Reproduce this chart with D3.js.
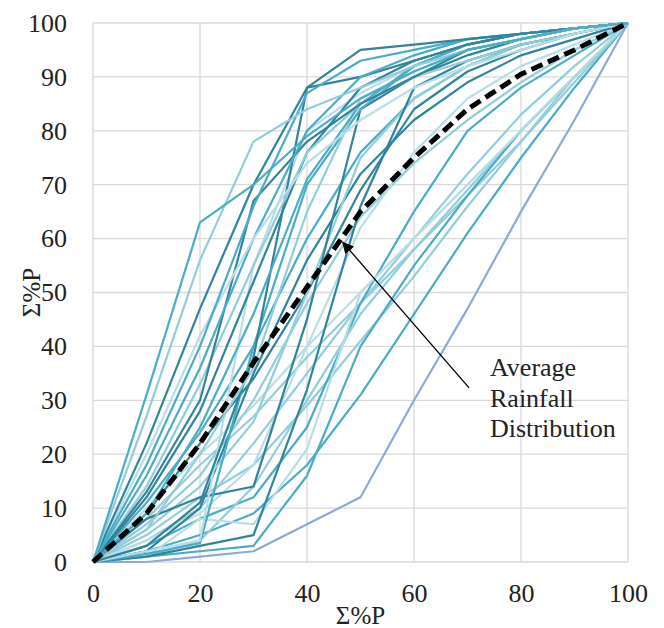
<!DOCTYPE html>
<html>
<head>
<meta charset="utf-8">
<script src="https://cdn.jsdelivr.net/npm/d3@7"></script>
<style>
  html, body { margin: 0; padding: 0; background: #fff; }
  svg { display: block; }
  text { font-family: 'Liberation Serif', 'Times New Roman', serif; fill: #222; }
</style>
</head>
<body>
<div id="chart"></div>
<script>
// Cumulative % of storm duration (x) at which values are recorded
const xSteps = [0, 10, 20, 30, 40, 50, 60, 70, 80, 90, 100];

// Individual storm mass curves (cumulative % of rainfall)
const s01 = [0, 31, 63, 70, 79, 86, 91, 95, 97, 99, 100];
const s02 = [0, 27, 56, 78, 84, 88, 92, 95, 97, 99, 100];
const s03 = [0, 22, 47, 70, 88, 95, 96, 97, 98, 99, 100];
const s04 = [0, 18, 40, 66, 87, 93, 95, 97, 98, 99, 100];
const s05 = [0, 16, 36, 60, 80, 90, 94, 97, 98, 99, 100];
const s06 = [0, 13, 30, 67, 78, 85, 90, 95, 97, 99, 100];
const s07 = [0, 12, 28, 52, 76, 88, 93, 96, 98, 99, 100];
const s08 = [0, 9, 25, 46, 71, 85, 92, 96, 98, 99, 100];
const s09 = [0, 6, 20, 36, 65, 86, 91, 95, 97, 99, 100];
const s10 = [0, 3, 11, 38, 88, 90, 93, 96, 98, 99, 100];
const s11 = [0, 8, 12, 14, 45, 84, 90, 94, 97, 99, 100];
const s12 = [0, 1, 3, 5, 32, 66, 88, 93, 96, 98, 100];
const s13 = [0, 2, 10, 35, 56, 72, 82, 89, 94, 97, 100];
const s14 = [0, 10, 20, 29, 40, 50, 60, 70, 80, 90, 100];
const s15 = [0, 8, 18, 27, 38, 48, 58, 68, 78, 89, 100];
const s16 = [0, 5, 12, 18, 29, 41, 53, 66, 78, 90, 100];
const s17 = [0, 2, 5, 9, 18, 31, 46, 61, 75, 88, 100];
const s18 = [0, 0, 1, 2, 7, 12, 30, 47, 65, 82, 100];
const s19 = [0, 1, 2, 3, 16, 40, 55, 68, 80, 90, 100];
const s20 = [0, 1, 8, 7, 21, 50, 60, 70, 80, 90, 100];
const s21 = [0, 2, 4, 55, 80, 87, 92, 95, 97, 99, 100];
const s22 = [0, 1.5, 3.5, 40, 70, 84, 92, 96, 98, 99, 100];
const s23 = [0, 14, 33, 55, 76, 85, 90, 93, 96, 98, 100];
const s24 = [0, 4, 9, 18, 40, 62, 76, 86, 92, 96, 100];
const s25 = [0, 3, 8, 12, 25, 48, 65, 80, 88, 94, 100];
const s26 = [0, 6, 14, 26, 50, 75, 86, 92, 96, 98, 100];
const s27 = [0, 11, 24, 40, 60, 76, 86, 92, 96, 98, 100];
const s28 = [0, 7, 16, 30, 48, 64, 74, 82, 89, 95, 100];
const s29 = [0, 20, 42, 60, 74, 82, 88, 92, 95, 98, 100];
const s30 = [0, 4, 10, 22, 35, 48, 60, 72, 83, 92, 100];
const s31 = [0, 1, 4, 14, 30, 46, 58, 69, 80, 90, 100];
const s32 = [0, 9, 22, 34, 50, 69, 84, 91, 95, 98, 100];

// Average rainfall distribution
const averageCurve = [0, 9, 22, 37, 51, 65, 75, 84, 90.5, 95, 100];

const storms = [s17, s16, s30, s14, s15, s25, s31, s19, s20, s28, s24, s13, s27, s32, s26,
                s18, s12, s11, s22, s21, s10, s09, s08, s07, s23, s06, s05, s29, s04, s03, s02, s01];
const stormShade = [1, 2, 2, 3, 2, 1, 2, 1, 3, 2, 3, 0, 1, 0, 2,
                    4, 0, 0, 1, 3, 0, 2, 1, 0, 2, 0, 1, 3, 1, 0, 2, 1];
const palette = ["#31849B", "#4BACC6", "#92CDDC", "#B7DEE8", "#8DA9DB"];

const xTicks = [0, 20, 40, 60, 80, 100];
const yTicks = [0, 10, 20, 30, 40, 50, 60, 70, 80, 90, 100];
const axisTitle = "Σ%P";
const annotationLines = ["Average", "Rainfall", "Distribution"];
const annotationTarget = [46.7, 59.3];
const annotationTail = [70.3, 32.3];

const FONT = "'Liberation Serif', 'Times New Roman', serif";
const W = 664, H = 628;
const margin = { left: 93, right: 36, top: 23, bottom: 66 };

const svg = d3.select("#chart").append("svg")
  .attr("width", W).attr("height", H);
svg.append("rect").attr("width", W).attr("height", H).attr("fill", "#fff");

const x = d3.scaleLinear().domain([0, 100]).range([margin.left, W - margin.right]);
const y = d3.scaleLinear().domain([0, 100]).range([H - margin.bottom, margin.top]);

// Gridlines
const grid = svg.append("g");
grid.selectAll("line.h").data(yTicks).join("line")
  .attr("x1", x(0)).attr("x2", x(100))
  .attr("y1", d => y(d)).attr("y2", d => y(d))
  .attr("stroke", "#d9d9d9").attr("stroke-width", 1.3);
grid.selectAll("line.v").data(xTicks).join("line")
  .attr("y1", y(0)).attr("y2", y(100))
  .attr("x1", d => x(d)).attr("x2", d => x(d))
  .attr("stroke", "#d9d9d9").attr("stroke-width", 1.3);

// Axes (labels only)
const xAxis = d3.axisBottom(x).tickValues(xTicks).tickSize(0).tickPadding(22);
const gx = svg.append("g").attr("transform", `translate(0,${y(0)})`).call(xAxis);
gx.select(".domain").remove();
gx.selectAll("text").attr("fill", "#222")
  .style("font-family", FONT).style("font-size", "26px");

const yAxis = d3.axisLeft(y).tickValues(yTicks).tickSize(0).tickPadding(26);
const gy = svg.append("g").attr("transform", `translate(${x(0)},0)`).call(yAxis);
gy.select(".domain").remove();
gy.selectAll("text").attr("fill", "#222")
  .style("font-family", FONT).style("font-size", "26px");

// Lines
const line = d3.line().x((d, i) => x(xSteps[i])).y(d => y(d));
svg.append("g").selectAll("path").data(storms).join("path")
  .attr("d", line)
  .attr("fill", "none")
  .attr("stroke", (d, i) => palette[stormShade[i]])
  .attr("stroke-width", 2.2)
  .attr("stroke-linejoin", "round");

svg.append("path").datum(averageCurve)
  .attr("d", line)
  .attr("fill", "none")
  .attr("stroke", "#000")
  .attr("stroke-width", 5)
  .attr("stroke-dasharray", "12,6");

// Annotation arrow
svg.append("defs").append("marker")
  .attr("id", "arrow").attr("viewBox", "0 0 10 10")
  .attr("refX", 9).attr("refY", 5)
  .attr("markerWidth", 9).attr("markerHeight", 9)
  .attr("orient", "auto-start-reverse")
  .append("path").attr("d", "M0,0 L10,5 L0,10 z").attr("fill", "#000");

svg.append("line")
  .attr("x1", x(annotationTail[0])).attr("y1", y(annotationTail[1]))
  .attr("x2", x(annotationTarget[0])).attr("y2", y(annotationTarget[1]))
  .attr("stroke", "#000").attr("stroke-width", 1.3)
  .attr("marker-end", "url(#arrow)");

const ann = svg.append("text")
  .attr("x", 490).attr("y", 376)
  .style("font-family", FONT).style("font-size", "26px");
ann.selectAll("tspan").data(annotationLines).join("tspan")
  .attr("x", 490).attr("dy", (d, i) => i === 0 ? 0 : 30.5)
  .text(d => d);

// Axis titles
svg.append("text")
  .attr("x", (x(0) + x(100)) / 2).attr("y", 624)
  .attr("text-anchor", "middle")
  .style("font-family", FONT).style("font-size", "25px")
  .text(axisTitle);

svg.append("text")
  .attr("transform", `translate(40,${(y(0) + y(100)) / 2}) rotate(-90)`)
  .attr("text-anchor", "middle")
  .style("font-family", FONT).style("font-size", "25px")
  .text(axisTitle);
</script>
</body>
</html>
